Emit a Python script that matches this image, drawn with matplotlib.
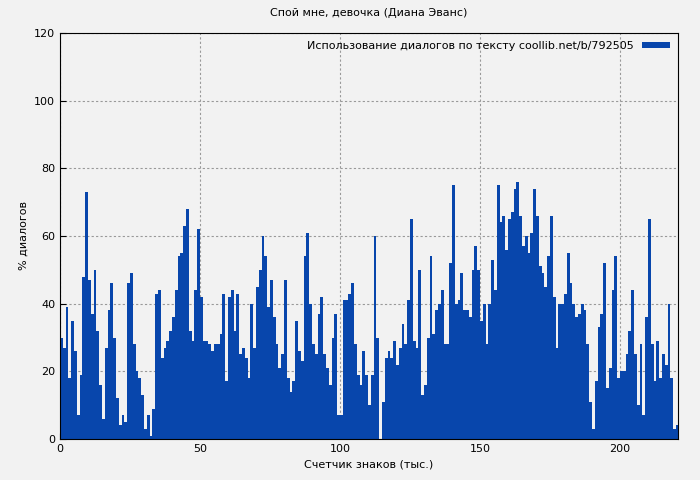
import matplotlib
matplotlib.use("Agg")
import matplotlib.pyplot as plt
import numpy as np

values = [30,27,39,18,35,26,7,19,48,73,47,37,50,32,16,6,27,38,46,30,
          12,4,7,5,46,49,28,20,18,13,3,7,1,9,43,44,24,27,29,32,
          36,44,54,55,63,68,32,29,44,62,42,29,29,28,26,28,28,31,43,17,
          42,44,32,43,25,27,24,18,40,27,45,50,60,54,39,47,36,28,21,25,
          47,18,14,17,35,26,23,54,61,40,28,25,37,42,25,21,16,30,37,7,
          7,41,41,43,46,28,19,16,26,19,10,19,60,30,0,11,24,26,24,29,
          22,27,34,28,41,65,29,27,50,13,16,30,54,31,38,40,44,28,28,52,
          75,40,41,49,38,38,36,50,57,50,35,40,28,40,53,44,75,64,66,56,
          65,67,74,76,66,57,60,55,61,74,66,51,49,45,54,66,42,27,40,40,
          43,55,46,40,36,37,40,38,28,11,3,17,33,37,52,15,21,44,54,18,
          20,20,25,32,44,25,10,28,7,36,65,28,17,29,18,25,22,40,18,3,4]
x = np.arange(len(values))

bg = "#f2f2f2"
fig = plt.figure(figsize=(7, 4.8), dpi=100, facecolor=bg)
ax = fig.add_axes([60/700, 1-439/480, 618/700, 406/480], facecolor=bg)
ax.bar(x, values, width=1.0, align="edge", color="#0846ac", linewidth=0,
       label="Использование диалогов по тексту coollib.net/b/792505", zorder=2)
ax.set_xlim(0, 220.7)
ax.set_ylim(0, 120)
ax.set_xticks([0, 50, 100, 150, 200])
ax.set_yticks(range(0, 121, 20))
ax.grid(True, color="#999999", linestyle=(0, (2, 2)), linewidth=0.8, zorder=1)
ax.tick_params(labelsize=8, direction="in", length=4)
for s in ax.spines.values():
    s.set_color("black")
ax.set_xlabel("Счетчик знаков (тыс.)", fontsize=8)
ax.set_ylabel("% диалогов", fontsize=8)
ax.set_title("Спой мне, девочка (Диана Эванс)", fontsize=8, pad=12)
leg = ax.legend(loc="upper right", fontsize=8, frameon=False, markerfirst=False,
                handlelength=2.5, handleheight=0.5, borderaxespad=0.3)
fig.savefig("out.png", dpi=100, facecolor=bg)
